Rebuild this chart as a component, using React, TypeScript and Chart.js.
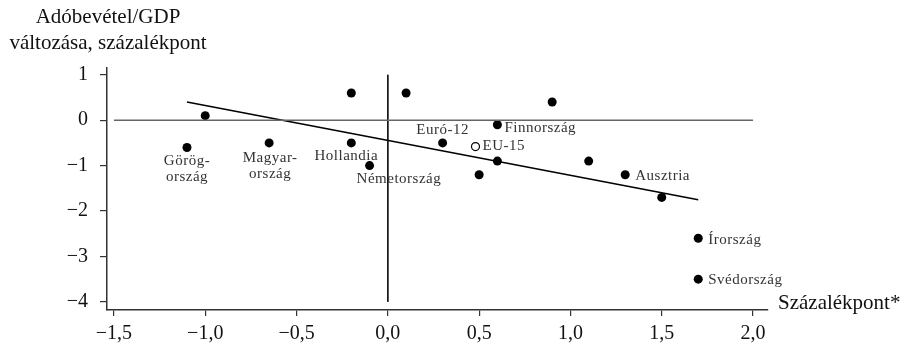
import React, { useEffect, useRef } from 'react';
import { Chart, registerables } from 'chart.js';

Chart.register(...registerables);

// ---- data ----
const pointX = [-1.1, -1.0, -0.65, -0.2, -0.2, -0.1, 0.1, 0.3, 0.6, 0.6, 0.5, 0.9, 1.1, 1.3, 1.5, 1.7, 1.7];
const pointY = [-0.6, 0.1, -0.5, 0.6, -0.5, -1.0, 0.6, -0.5, -0.1, -0.9, -1.2, 0.4, -0.9, -1.2, -1.7, -2.6, -3.5];
const pointLabels = [
  'Görög-\nország', '', 'Magyar-\nország', '', 'Hollandia', 'Németország', '', 'Euró-12',
  'Finnország', '', '', '', '', 'Ausztria', '', 'Írország', 'Svédország',
];
const eu15X = [0.48];
const eu15Y = [-0.58];
const eu15Label = 'EU-15';
const trendX = [-1.1, 1.7];
const trendY = [0.4, -1.75];
const xTicks = [-1.5, -1.0, -0.5, 0.0, 0.5, 1.0, 1.5, 2.0];
const yTicks = [1, 0, -1, -2, -3, -4];
const yTitle = ['Adóbevétel/GDP', 'változása, százalékpont'];
const xTitle = 'Százalékpont*';

// ---- label placement (style) ----
type Place = { dx: number; dy: number; align: CanvasTextAlign };
const labelPlace: Record<string, Place> = {
  'Görög-\nország': { dx: 0, dy: 14, align: 'center' },
  'Magyar-\nország': { dx: 1, dy: 15, align: 'center' },
  Hollandia: { dx: -5, dy: 13, align: 'center' },
  'Németország': { dx: -13, dy: 13, align: 'left' },
  'Euró-12': { dx: 0, dy: -13, align: 'center' },
  'Finnország': { dx: 7, dy: 3, align: 'left' },
  Ausztria: { dx: 10, dy: 1, align: 'left' },
  'Írország': { dx: 10, dy: 2, align: 'left' },
  'Svédország': { dx: 10, dy: 1, align: 'left' },
};

const SERIF = '"Liberation Serif", "DejaVu Serif", serif';

const fmtX = (v: number) => (v < 0 ? '\u2212' : '') + Math.abs(v).toFixed(1).replace('.', ',');
const fmtY = (v: number) => (v < 0 ? '\u2212' : '') + String(Math.abs(v));

const textPlugin = {
  id: 'textPlugin',
  afterDatasetsDraw(chart: any) {
    const ctx = chart.ctx as any;
    const xs = chart.scales.x;
    const ys = chart.scales.y;
    ctx.save();
    ctx.textBaseline = 'middle';
    ctx.fillStyle = '#333';
    ctx.font = `15px ${SERIF}`;
    ctx.letterSpacing = '0.5px';
    pointLabels.forEach((lab, i) => {
      if (!lab) return;
      const p = labelPlace[lab] || { dx: 8, dy: 0, align: 'left' as CanvasTextAlign };
      const px = xs.getPixelForValue(pointX[i]);
      const py = ys.getPixelForValue(pointY[i]);
      ctx.textAlign = p.align;
      lab.split('\n').forEach((line, k) => {
        ctx.fillText(line, px + p.dx, py + p.dy + k * 16);
      });
    });
    // EU-15
    ctx.textAlign = 'left';
    ctx.fillText(eu15Label, xs.getPixelForValue(eu15X[0]) + 7, ys.getPixelForValue(eu15Y[0]));

    // titles
    ctx.letterSpacing = '0px';
    ctx.fillStyle = '#111';
    ctx.font = `21px ${SERIF}`;
    ctx.textAlign = 'center';
    ctx.fillText(yTitle[0], 108, 17);
    ctx.fillText(yTitle[1], 108, 43);
    ctx.textAlign = 'left';
    ctx.fillText(xTitle, chart.chartArea.right + 10, chart.chartArea.bottom - 7);
    ctx.restore();
  },
};

export default function App() {
  const ref = useRef<HTMLCanvasElement | null>(null);
  useEffect(() => {
    document.body.style.margin = '0';
    if (!ref.current) return;
    const mainPts = pointX.map((x, i) => ({ x, y: pointY[i] }));
    const chart = new Chart(ref.current, {
      type: 'scatter',
      data: {
        datasets: [
          {
            label: 'zero-h',
            data: [{ x: xTicks[0], y: 0 }, { x: xTicks[xTicks.length - 1], y: 0 }],
            showLine: true,
            borderColor: '#666',
            borderWidth: 1.5,
            pointRadius: 0,
          },
          {
            label: 'zero-v',
            data: [{ x: 0, y: yTicks[0] }, { x: 0, y: yTicks[yTicks.length - 1] }],
            showLine: true,
            borderColor: '#111',
            borderWidth: 1,
            pointRadius: 0,
          },
          {
            label: 'trend',
            data: trendX.map((x, i) => ({ x, y: trendY[i] })),
            showLine: true,
            borderColor: '#000',
            borderWidth: 1.6,
            pointRadius: 0,
          },
          {
            label: 'countries',
            data: mainPts,
            pointRadius: 4.5,
            pointBackgroundColor: '#000',
            pointBorderColor: '#000',
            borderWidth: 0,
          },
          {
            label: 'EU-15',
            data: eu15X.map((x, i) => ({ x, y: eu15Y[i] })),
            pointRadius: 4,
            pointBackgroundColor: '#fff',
            pointBorderColor: '#000',
            pointBorderWidth: 1.2,
          },
        ],
      },
      options: {
        responsive: false,
        animation: false,
        events: [],
        layout: { padding: { left: 0, right: 140, top: 68, bottom: 0 } },
        plugins: { legend: { display: false }, tooltip: { enabled: false } },
        scales: {
          x: {
            type: 'linear',
            min: -1.538,
            max: 2.082,
            afterBuildTicks: (s: any) => {
              s.ticks = xTicks.map((v) => ({ value: v }));
            },
            afterFit: (s: any) => {
              s.height = 35;
            },
            ticks: {
              callback: (v: any) => fmtX(Number(v)),
              font: { family: SERIF, size: 20 },
              color: '#111',
              padding: 6,
              autoSkip: false,
              maxRotation: 0,
            },
            grid: { drawOnChartArea: false, drawTicks: true, tickLength: 6, color: '#333', lineWidth: 1.2 },
            border: { display: true, color: '#333', width: 1.5 },
          },
          y: {
            type: 'linear',
            min: -4.18,
            max: 1.15,
            afterBuildTicks: (s: any) => {
              s.ticks = yTicks.map((v) => ({ value: v }));
            },
            afterFit: (s: any) => {
              s.width = 107;
            },
            ticks: {
              callback: (v: any) => fmtY(Number(v)),
              font: { family: SERIF, size: 20 },
              color: '#111',
              padding: 12,
              autoSkip: false,
            },
            grid: { drawOnChartArea: false, drawTicks: true, tickLength: 7, color: '#333', lineWidth: 1.2 },
            border: { display: true, color: '#333', width: 1.5 },
          },
        },
      },
      plugins: [textPlugin],
    });
    return () => chart.destroy();
  }, []);
  return (
    <div style={{ width: 908, height: 345, background: '#fff' }}>
      <canvas ref={ref} width={908} height={345} style={{ display: 'block' }} />
    </div>
  );
}
